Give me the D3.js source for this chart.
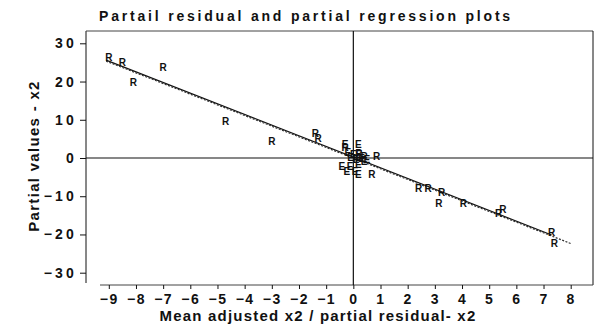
<!DOCTYPE html>
<html>
<head>
<meta charset="utf-8">
<script src="https://cdn.jsdelivr.net/npm/d3@7"></script>
<style>
  html, body { margin: 0; padding: 0; background: #fff; }
  svg { display: block; font-family: "Liberation Sans", Arial, sans-serif; }
</style>
</head>
<body>
<svg id="chart" width="600" height="327"></svg>
<script>
// Tick values for both axes
const xTicks = [-9, -8, -7, -6, -5, -4, -3, -2, -1, 0, 1, 2, 3, 4, 5, 6, 7, 8];
const yTicks = [30, 20, 10, 0, -10, -20, -30];

// Partial residuals (marker "R")
const residX = [-9.0, -8.5, -8.1, -7.0, -4.7, -3.0, -1.4, -1.3, 0.86, 0.68, 2.4, 2.75, 3.25, 3.15, 4.05, 5.5, 5.35, 7.3, 7.4, -0.3, 0.2, 0.4];
const residY = [26.2, 24.9, 19.8, 23.6, 9.6, 4.4, 6.3, 5.2, 0.3, -4.2, -7.9, -7.9, -9.0, -11.9, -11.9, -13.4, -14.6, -19.5, -22.3, 2.8, 1.2, 0.3];

// Partial regression values (marker "E")
const regrX = [0.18, -0.3, -0.2, 0.0, 0.2, -0.1, 0.3, 0.1, 0.5, 0.4, -0.42, -0.12, 0.18, -0.24, 0.06, 0.18];
const regrY = [3.6, 3.6, 1.5, 1.0, 0.8, 0.2, 0.0, -0.5, -0.3, -1.0, -2.3, -2.3, -1.8, -3.6, -3.6, -4.4];

// Fitted line end points
const fitX = [-9.1, 8.0];
const fitY = [25.6, -22.1];

const svg = d3.select("#chart");
const x = d3.scaleLinear().domain([-9, 8]).range([108.8, 570.7]);
const y = d3.scaleLinear().domain([-30, 30]).range([272.7, 43.3]);

const frame = { left: 86, right: 593, top: 31, bottom: 285 };
const ink = "#111";

// Frame: left, top, right sides and the bottom axis line
svg.append("line").attr("x1", frame.left).attr("x2", frame.left).attr("y1", frame.top).attr("y2", frame.bottom - 2).attr("stroke", ink).attr("stroke-width", 1);
svg.append("line").attr("x1", frame.left).attr("x2", frame.right).attr("y1", frame.top).attr("y2", frame.top).attr("stroke", "#444").attr("stroke-width", 1);
svg.append("line").attr("x1", frame.right).attr("x2", frame.right).attr("y1", frame.top).attr("y2", frame.bottom).attr("stroke", ink).attr("stroke-width", 1);
svg.append("line").attr("x1", 100).attr("x2", frame.right).attr("y1", frame.bottom).attr("y2", frame.bottom).attr("stroke", "#444").attr("stroke-width", 1);

// Y axis
const yAxis = d3.axisLeft(y).tickValues(yTicks).tickSize(6).tickPadding(3).tickFormat(d3.format("d"));
const gy = svg.append("g").attr("transform", `translate(${frame.left},0)`).call(yAxis);
gy.select(".domain").remove();
gy.selectAll(".tick line").attr("stroke", ink);
gy.selectAll(".tick text")
  .attr("font-size", 14).attr("font-weight", "bold").attr("letter-spacing", 3.2)
  .attr("fill", ink).attr("font-family", "Liberation Sans, Arial, sans-serif");

// X axis
const xAxis = d3.axisBottom(x).tickValues(xTicks).tickSize(4).tickPadding(5).tickFormat(d3.format("d"));
const gx = svg.append("g").attr("transform", `translate(0,${frame.bottom})`).call(xAxis);
gx.select(".domain").remove();
gx.selectAll(".tick line").attr("stroke", ink);
gx.selectAll(".tick text")
  .attr("font-size", 14).attr("font-weight", "bold").attr("letter-spacing", 1.5)
  .attr("fill", ink).attr("font-family", "Liberation Sans, Arial, sans-serif");

// Reference lines through the origin
svg.append("line").attr("x1", x(0)).attr("x2", x(0)).attr("y1", frame.top).attr("y2", frame.bottom).attr("stroke", ink).attr("stroke-width", 1.2);
svg.append("line").attr("x1", frame.left).attr("x2", frame.right).attr("y1", y(0)).attr("y2", y(0)).attr("stroke", ink).attr("stroke-width", 1.2);

// Fitted lines: solid partial residual fit and dotted partial regression fit
svg.append("line")
  .attr("x1", x(fitX[0])).attr("y1", y(fitY[0]))
  .attr("x2", x(7.3)).attr("y2", y(fitY[0] + (fitY[1] - fitY[0]) * (7.3 - fitX[0]) / (fitX[1] - fitX[0])))
  .attr("stroke", ink).attr("stroke-width", 1.2);
svg.append("line")
  .attr("x1", x(fitX[0])).attr("y1", y(fitY[0]) + 1)
  .attr("x2", x(fitX[1])).attr("y2", y(fitY[1]) + 1)
  .attr("stroke", "#333").attr("stroke-width", 1.2).attr("stroke-dasharray", "2,1.5");

// Point markers drawn as letters
function letters(xs, ys, ch) {
  svg.append("g").selectAll("text")
    .data(xs.map((v, i) => [v, ys[i]]))
    .join("text")
    .attr("x", d => x(d[0]))
    .attr("y", d => y(d[1]))
    .attr("dy", "0.35em")
    .attr("text-anchor", "middle")
    .attr("font-size", 10)
    .attr("font-weight", "bold")
    .attr("fill", ink)
    .text(ch);
}
letters(regrX, regrY, "E");
letters(residX, residY, "R");

// Title
svg.append("text")
  .attr("x", 306).attr("y", 20.5).attr("text-anchor", "middle")
  .attr("font-size", 14).attr("font-weight", "bold").attr("letter-spacing", 2.8)
  .attr("fill", ink)
  .text("Partail residual and partial regression plots");

// Axis titles
svg.append("text")
  .attr("x", 318).attr("y", 321).attr("text-anchor", "middle")
  .attr("font-size", 15).attr("font-weight", "bold").attr("letter-spacing", 1.2)
  .attr("fill", ink)
  .text("Mean adjusted x2 / partial residual- x2");

svg.append("text")
  .attr("transform", "translate(39,156) rotate(-90)")
  .attr("text-anchor", "middle")
  .attr("font-size", 15).attr("font-weight", "bold").attr("letter-spacing", 1.3)
  .attr("fill", ink)
  .text("Partial values - x2");
</script>
</body>
</html>
